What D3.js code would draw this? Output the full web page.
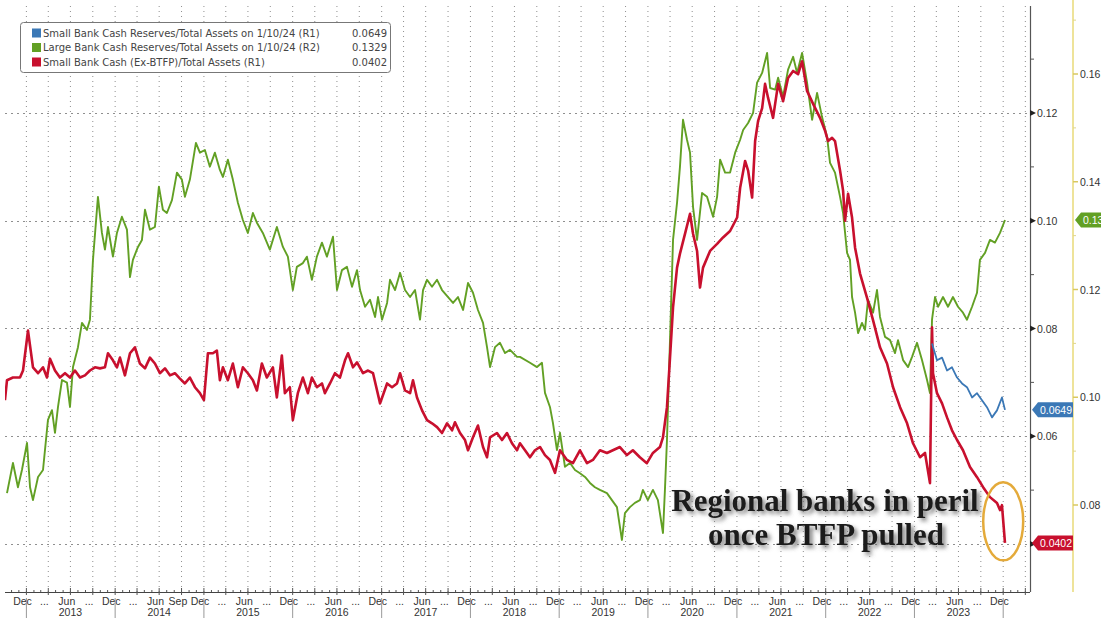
<!DOCTYPE html>
<html><head><meta charset="utf-8">
<script src="https://cdn.jsdelivr.net/npm/d3@7"></script>
<style>
html,body{margin:0;padding:0;background:#fff;overflow:hidden}
svg{display:block}
text{font-family:"Liberation Sans",Arial,sans-serif}
</style></head><body>
<svg id="chart" width="1101" height="618"></svg>
<script>
// ---------- DATA ----------
const legendLabels = [
  "Small Bank Cash Reserves/Total Assets on 1/10/24 (R1)",
  "Large Bank Cash Reserves/Total Assets on 1/10/24 (R2)",
  "Small Bank Cash (Ex-BTFP)/Total Assets (R1)"
];
const legendValues = ["0.0649", "0.1329", "0.0402"];
const seriesColors = ["#3b78b6", "#62a024", "#c8102e"];

const r1Ticks = [0.04, 0.06, 0.08, 0.10, 0.12];
const r1Minor = [0.05, 0.07, 0.09, 0.11, 0.13];
const r2Ticks = [0.08, 0.10, 0.12, 0.14, 0.16];
const r2Minor = [0.09, 0.11, 0.13, 0.15, 0.17];

// quarter-month labels from Dec 2012 to Dec 2023 (every 3 months)
const quarterLabels = ["Dec",
  "...","Jun","...","Dec",
  "...","Jun","Sep","Dec",
  "...","Jun","...","Dec",
  "...","Jun","...","Dec",
  "...","Jun","...","Dec",
  "...","Jun","...","Dec",
  "...","Jun","...","Dec",
  "...","Jun","...","Dec",
  "...","Jun","...","Dec",
  "...","Jun","...","Dec",
  "...","Jun","...","Dec"];
const yearLabels = ["2013","2014","2015","2016","2017","2018","2019","2020","2021","2022","2023"];

// [decimal year, value]
const smallBankReserves = [
[2023.198,0.0772],[2023.254,0.0741],[2023.311,0.0746],[2023.367,0.0722],[2023.423,0.0728],[2023.480,0.0709],
[2023.536,0.0698],[2023.592,0.0691],[2023.649,0.0672],[2023.705,0.0680],[2023.761,0.0667],[2023.817,0.0654],
[2023.874,0.0635],[2023.930,0.0648],[2023.986,0.0672],[2024.020,0.0649]];

const largeBankReserves = [
[2012.782,0.0822],[2012.849,0.0878],[2012.905,0.0833],[2012.950,0.0865],[2013.007,0.0915],[2013.041,0.0833],
[2013.074,0.0809],[2013.131,0.0852],[2013.187,0.0865],[2013.243,0.0958],[2013.288,0.0976],[2013.322,0.0934],
[2013.356,0.0982],[2013.401,0.1032],[2013.457,0.1027],[2013.491,0.0982],[2013.525,0.1056],[2013.581,0.1093],
[2013.626,0.1138],[2013.682,0.1125],[2013.716,0.1144],[2013.750,0.1255],[2013.806,0.1372],[2013.851,0.1305],
[2013.885,0.1274],[2013.919,0.1316],[2013.975,0.1261],[2014.020,0.1305],[2014.076,0.1335],[2014.133,0.1311],
[2014.167,0.1223],[2014.200,0.1255],[2014.257,0.1279],[2014.302,0.1292],[2014.336,0.1348],[2014.392,0.1311],
[2014.448,0.1316],[2014.493,0.1391],[2014.538,0.1348],[2014.583,0.1342],[2014.640,0.1366],[2014.696,0.1417],
[2014.752,0.1404],[2014.786,0.1372],[2014.842,0.1404],[2014.910,0.1472],[2014.955,0.1454],[2015.011,0.1459],
[2015.067,0.1428],[2015.124,0.1454],[2015.180,0.1422],[2015.214,0.1409],[2015.270,0.1441],[2015.326,0.1404],
[2015.383,0.1361],[2015.439,0.1329],[2015.495,0.1305],[2015.552,0.1342],[2015.597,0.1324],[2015.664,0.1305],
[2015.743,0.1274],[2015.822,0.1316],[2015.890,0.1279],[2015.946,0.1261],[2016.002,0.1199],[2016.047,0.1242],
[2016.115,0.1249],[2016.160,0.1261],[2016.216,0.1218],[2016.272,0.1261],[2016.329,0.1287],[2016.385,0.1261],
[2016.453,0.1298],[2016.498,0.1199],[2016.554,0.1236],[2016.610,0.1242],[2016.667,0.1205],[2016.723,0.1236],
[2016.757,0.1199],[2016.813,0.1168],[2016.869,0.1181],[2016.926,0.1149],[2016.959,0.1186],[2017.004,0.1144],
[2017.061,0.1175],[2017.094,0.1218],[2017.151,0.1199],[2017.207,0.1231],[2017.263,0.1199],[2017.320,0.1186],
[2017.376,0.1199],[2017.432,0.1144],[2017.466,0.1199],[2017.511,0.1218],[2017.567,0.1205],[2017.624,0.1218],
[2017.680,0.1199],[2017.748,0.1186],[2017.804,0.1175],[2017.860,0.1186],[2017.917,0.1162],[2017.973,0.1212],
[2018.029,0.1194],[2018.085,0.1162],[2018.142,0.1138],[2018.187,0.1093],[2018.221,0.1056],[2018.277,0.1093],
[2018.333,0.1101],[2018.390,0.1082],[2018.446,0.1088],[2018.525,0.1075],[2018.558,0.1075],[2018.671,0.1064],
[2018.750,0.1056],[2018.806,0.1064],[2018.840,0.1008],[2018.896,0.0982],[2018.930,0.0952],[2018.975,0.0902],
[2019.009,0.0934],[2019.065,0.0871],[2019.122,0.0878],[2019.178,0.0865],[2019.234,0.0859],[2019.291,0.0852],
[2019.347,0.0841],[2019.403,0.0833],[2019.459,0.0828],[2019.538,0.0822],[2019.594,0.0809],[2019.651,0.0796],
[2019.707,0.0735],[2019.741,0.0785],[2019.797,0.0796],[2019.853,0.0804],[2019.909,0.0809],[2019.943,0.0828],
[2019.999,0.0809],[2020.056,0.0828],[2020.112,0.0809],[2020.169,0.0748],[2020.191,0.0828],[2020.214,0.0921],
[2020.248,0.1106],[2020.282,0.1292],[2020.327,0.1361],[2020.360,0.1428],[2020.394,0.1515],[2020.439,0.1478],
[2020.473,0.1454],[2020.507,0.1353],[2020.552,0.1292],[2020.608,0.1379],[2020.664,0.1372],[2020.732,0.1335],
[2020.777,0.1372],[2020.811,0.1441],[2020.867,0.1417],[2020.923,0.1417],[2020.980,0.1454],[2021.036,0.1478],
[2021.070,0.1496],[2021.126,0.1509],[2021.182,0.1528],[2021.227,0.1584],[2021.284,0.1602],[2021.340,0.1639],
[2021.374,0.1574],[2021.430,0.1571],[2021.464,0.1593],[2021.520,0.1558],[2021.576,0.1608],[2021.633,0.1632],
[2021.678,0.1602],[2021.734,0.1639],[2021.790,0.1584],[2021.847,0.1515],[2021.903,0.1565],[2021.959,0.1520],
[2022.016,0.1483],[2022.049,0.1435],[2022.105,0.1417],[2022.162,0.1372],[2022.196,0.1342],[2022.241,0.1268],
[2022.274,0.1255],[2022.297,0.1186],[2022.331,0.1157],[2022.365,0.1119],[2022.409,0.1138],[2022.443,0.1125],
[2022.477,0.1181],[2022.534,0.1157],[2022.578,0.1199],[2022.612,0.1149],[2022.669,0.1112],[2022.725,0.1106],
[2022.781,0.1082],[2022.815,0.1106],[2022.872,0.1069],[2022.928,0.1056],[2022.973,0.1075],[2023.029,0.1101],
[2023.085,0.1069],[2023.142,0.1032],[2023.175,0.1008],[2023.198,0.1144],[2023.232,0.1186],[2023.266,0.1168],
[2023.322,0.1186],[2023.378,0.1168],[2023.434,0.1186],[2023.491,0.1168],[2023.547,0.1157],[2023.592,0.1144],
[2023.649,0.1168],[2023.705,0.1194],[2023.738,0.1255],[2023.795,0.1268],[2023.851,0.1292],[2023.907,0.1287],
[2023.964,0.1305],[2024.020,0.1329]];

const smallBankExBtfp = [
[2012.759,0.0667],[2012.782,0.0704],[2012.849,0.0709],[2012.928,0.0709],[2012.962,0.0722],[2013.018,0.0796],
[2013.074,0.0728],[2013.131,0.0717],[2013.187,0.0728],[2013.232,0.0709],[2013.266,0.0744],[2013.322,0.0722],
[2013.378,0.0709],[2013.435,0.0717],[2013.491,0.0709],[2013.547,0.0722],[2013.604,0.0709],[2013.660,0.0713],
[2013.716,0.0722],[2013.773,0.0728],[2013.829,0.0726],[2013.885,0.0728],[2013.919,0.0754],[2013.975,0.0741],
[2014.020,0.0728],[2014.054,0.0746],[2014.110,0.0713],[2014.167,0.0754],[2014.223,0.0765],[2014.279,0.0735],
[2014.336,0.0726],[2014.392,0.0746],[2014.448,0.0735],[2014.504,0.0717],[2014.561,0.0726],[2014.617,0.0713],
[2014.673,0.0717],[2014.730,0.0707],[2014.786,0.0698],[2014.842,0.0709],[2014.899,0.0691],[2014.955,0.0680],
[2015.000,0.0667],[2015.045,0.0754],[2015.101,0.0754],[2015.146,0.0759],[2015.180,0.0704],[2015.214,0.0728],
[2015.270,0.0704],[2015.326,0.0735],[2015.383,0.0691],[2015.439,0.0728],[2015.495,0.0717],[2015.552,0.0704],
[2015.597,0.0685],[2015.653,0.0735],[2015.709,0.0709],[2015.777,0.0728],[2015.822,0.0672],[2015.878,0.0750],
[2015.912,0.0680],[2015.968,0.0691],[2016.002,0.0630],[2016.058,0.0680],[2016.115,0.0709],[2016.171,0.0680],
[2016.216,0.0709],[2016.272,0.0691],[2016.329,0.0698],[2016.362,0.0680],[2016.419,0.0698],[2016.475,0.0717],
[2016.531,0.0709],[2016.588,0.0741],[2016.622,0.0754],[2016.678,0.0728],[2016.723,0.0737],[2016.790,0.0717],
[2016.847,0.0722],[2016.903,0.0717],[2016.982,0.0661],[2017.061,0.0698],[2017.117,0.0691],[2017.173,0.0698],
[2017.207,0.0717],[2017.263,0.0685],[2017.320,0.0680],[2017.353,0.0704],[2017.398,0.0672],[2017.455,0.0648],
[2017.511,0.0630],[2017.567,0.0624],[2017.624,0.0617],[2017.680,0.0606],[2017.736,0.0624],[2017.793,0.0611],
[2017.826,0.0626],[2017.883,0.0606],[2017.939,0.0593],[2017.973,0.0574],[2018.029,0.0598],[2018.085,0.0620],
[2018.142,0.0580],[2018.187,0.0561],[2018.221,0.0598],[2018.299,0.0606],[2018.356,0.0593],[2018.412,0.0606],
[2018.468,0.0587],[2018.525,0.0574],[2018.558,0.0587],[2018.615,0.0574],[2018.671,0.0561],[2018.727,0.0574],
[2018.784,0.0580],[2018.840,0.0565],[2018.896,0.0556],[2018.953,0.0532],[2019.009,0.0574],[2019.088,0.0556],
[2019.155,0.0550],[2019.234,0.0574],[2019.313,0.0550],[2019.380,0.0556],[2019.459,0.0574],[2019.538,0.0569],
[2019.605,0.0574],[2019.684,0.0580],[2019.763,0.0565],[2019.830,0.0574],[2019.909,0.0561],[2019.988,0.0550],
[2020.056,0.0569],[2020.135,0.0580],[2020.169,0.0598],[2020.214,0.0654],[2020.248,0.0746],[2020.282,0.0839],
[2020.327,0.0913],[2020.360,0.0939],[2020.417,0.0976],[2020.473,0.1013],[2020.507,0.0976],[2020.552,0.0944],
[2020.585,0.0876],[2020.619,0.0913],[2020.698,0.0944],[2020.777,0.0957],[2020.844,0.0969],[2020.923,0.0981],
[2021.002,0.1006],[2021.036,0.1061],[2021.092,0.1111],[2021.126,0.1093],[2021.171,0.1043],[2021.205,0.1148],
[2021.238,0.1185],[2021.284,0.1209],[2021.317,0.1254],[2021.351,0.1228],[2021.407,0.1191],[2021.464,0.1254],
[2021.520,0.1222],[2021.576,0.1265],[2021.633,0.1278],[2021.689,0.1272],[2021.734,0.1296],[2021.790,0.1241],
[2021.858,0.1217],[2021.936,0.1191],[2021.993,0.1167],[2022.027,0.1148],[2022.072,0.1154],[2022.105,0.1148],
[2022.162,0.1093],[2022.196,0.1056],[2022.218,0.1000],[2022.252,0.1050],[2022.297,0.1006],[2022.331,0.0950],
[2022.387,0.0902],[2022.466,0.0857],[2022.534,0.0815],[2022.612,0.0765],[2022.691,0.0735],[2022.759,0.0691],
[2022.838,0.0654],[2022.917,0.0624],[2022.984,0.0587],[2023.063,0.0561],[2023.119,0.0569],[2023.175,0.0513],
[2023.198,0.0802],[2023.209,0.0717],[2023.254,0.0680],[2023.311,0.0661],[2023.367,0.0635],[2023.423,0.0611],
[2023.480,0.0593],[2023.547,0.0574],[2023.626,0.0543],[2023.705,0.0524],[2023.772,0.0506],[2023.851,0.0487],
[2023.930,0.0476],[2023.964,0.0463],[2023.986,0.0472],[2024.020,0.0402]];

const annotationLines = ["Regional banks in peril", "once BTFP pulled"];
const highlightDate = 2024.0, highlightValue = 0.0442;

// ---------- CHART ----------
const svg = d3.select("#chart");
const plot = {left: 5, right: 1030, top: 6, bottom: 592};

function yearToDate(t) {
  const y = Math.floor(t);
  const a = new Date(y, 0, 1), b = new Date(y + 1, 0, 1);
  return new Date(+a + (t - y) * (b - a));
}

const x = d3.scaleTime().domain([new Date(2013, 0, 1), new Date(2024, 0, 1)]).range([26.4, 1003.2]);
const yR1 = d3.scaleLinear().domain([0.04, 0.12]).range([544, 113]);
const yR2 = d3.scaleLinear().domain([0.08, 0.16]).range([505, 74]);

const defs = svg.append("defs");
defs.append("clipPath").attr("id", "clip").append("rect")
  .attr("x", plot.left).attr("y", plot.top)
  .attr("width", plot.right - plot.left).attr("height", plot.bottom - plot.top);
const f = defs.append("filter").attr("id", "shadow").attr("x", "-10%").attr("y", "-30%").attr("width", "130%").attr("height", "170%");
f.append("feDropShadow").attr("dx", 3).attr("dy", 3).attr("stdDeviation", 2)
  .attr("flood-color", "#555").attr("flood-opacity", 0.75);

// vertical grid (quarterly)
const quarters = d3.timeMonth.every(3).range(new Date(2012, 9, 1), new Date(2024, 4, 1))
  .filter(d => x(d) > plot.left + 1 && x(d) < plot.right - 1);
svg.append("g").selectAll("line").data(quarters).join("line")
  .attr("x1", d => x(d)).attr("x2", d => x(d))
  .attr("y1", plot.top).attr("y2", plot.bottom)
  .attr("stroke", "#8f8f8f").attr("stroke-width", 1).attr("stroke-dasharray", "1,4");

// horizontal grid
svg.append("g").selectAll("line").data(r1Ticks).join("line")
  .attr("x1", plot.left).attr("x2", plot.right)
  .attr("y1", d => Math.round(yR1(d)) + 0.5).attr("y2", d => Math.round(yR1(d)) + 0.5)
  .attr("stroke", "#8f8f8f").attr("stroke-width", 1).attr("stroke-dasharray", "2,4");

// x axis
const xa = svg.append("g");
xa.append("line").attr("x1", plot.left).attr("x2", plot.right)
  .attr("y1", plot.bottom + 0.5).attr("y2", plot.bottom + 0.5).attr("stroke", "#444");
const months = d3.timeMonth.range(new Date(2012, 10, 1), new Date(2024, 4, 1))
  .filter(d => x(d) > plot.left && x(d) < plot.right);
xa.selectAll(".mt").data(months).join("line")
  .attr("x1", d => x(d)).attr("x2", d => x(d))
  .attr("y1", d => d.getMonth() % 3 === 0 ? plot.bottom - 4 : plot.bottom - 2)
  .attr("y2", d => d.getMonth() % 3 === 0 ? plot.bottom + 3 : plot.bottom)
  .attr("stroke", "#555");
const labelDates = quarterLabels.map((s, i) => new Date(2012, 11 + 3 * i, 16));
xa.selectAll(".ql").data(quarterLabels).join("text")
  .attr("x", (d, i) => x(labelDates[i])).attr("y", 605)
  .attr("text-anchor", "middle").attr("font-size", 10.5).attr("fill", "#333")
  .text(d => d);
xa.selectAll(".yl").data(yearLabels).join("text")
  .attr("x", d => x(new Date(+d, 6, 1))).attr("y", 616)
  .attr("text-anchor", "middle").attr("font-size", 10.5).attr("fill", "#333")
  .text(d => d);
const yearStarts = d3.range(2013, 2025).map(y => new Date(y, 0, 1));
xa.selectAll(".ys").data(yearStarts).join("line")
  .attr("x1", d => x(d)).attr("x2", d => x(d))
  .attr("y1", 598).attr("y2", 618).attr("stroke", "#999");

// R1 axis
const r1 = svg.append("g");
r1.append("line").attr("x1", plot.right + 0.5).attr("x2", plot.right + 0.5)
  .attr("y1", plot.top).attr("y2", plot.bottom).attr("stroke", "#555").attr("stroke-width", 1.2);
r1.selectAll(".tri").data(r1Ticks).join("path")
  .attr("d", d => { const y = yR1(d); return `M${plot.right},${y - 3}L${plot.right + 6},${y}L${plot.right},${y + 3}Z`; })
  .attr("fill", "#222");
r1.selectAll(".mn").data(r1Minor).join("line")
  .attr("x1", plot.right).attr("x2", plot.right + 4)
  .attr("y1", d => yR1(d)).attr("y2", d => yR1(d)).attr("stroke", "#555");
r1.selectAll(".lb").data(r1Ticks.filter(d => d > 0.05)).join("text")
  .attr("x", plot.right + 7).attr("y", d => yR1(d) + 4)
  .attr("font-size", 10.5).attr("fill", "#333").text(d => d3.format(".2f")(d));

// R2 axis
const r2x = 1073;
const r2 = svg.append("g");
r2.append("line").attr("x1", r2x).attr("x2", r2x).attr("y1", 0).attr("y2", plot.bottom)
  .attr("stroke", "#eee39a").attr("stroke-width", 2);
r2.selectAll(".mj").data(r2Ticks).join("line")
  .attr("x1", r2x).attr("x2", r2x + 5).attr("y1", d => yR2(d)).attr("y2", d => yR2(d))
  .attr("stroke", "#d9c860").attr("stroke-width", 1.5);
r2.selectAll(".mn").data(r2Minor).join("line")
  .attr("x1", r2x).attr("x2", r2x + 3).attr("y1", d => yR2(d)).attr("y2", d => yR2(d))
  .attr("stroke", "#e0d68a");
r2.selectAll(".lb").data(r2Ticks).join("text")
  .attr("x", r2x + 7).attr("y", d => yR2(d) + 4)
  .attr("font-size", 10.5).attr("fill", "#333").text(d => d3.format(".2f")(d));

// series
const lineR1 = d3.line().x(d => x(yearToDate(d[0]))).y(d => yR1(d[1]));
const lineR2 = d3.line().x(d => x(yearToDate(d[0]))).y(d => yR2(d[1]));
const lines = svg.append("g").attr("clip-path", "url(#clip)");
lines.append("path").datum(largeBankReserves).attr("d", lineR2)
  .attr("fill", "none").attr("stroke", seriesColors[1]).attr("stroke-width", 1.9).attr("stroke-linejoin", "round");
lines.append("path").datum(smallBankExBtfp).attr("d", lineR1)
  .attr("fill", "none").attr("stroke", seriesColors[2]).attr("stroke-width", 2.6).attr("stroke-linejoin", "round");
lines.append("path").datum(smallBankReserves).attr("d", lineR1)
  .attr("fill", "none").attr("stroke", seriesColors[0]).attr("stroke-width", 1.8).attr("stroke-linejoin", "round");

// value tags
function tag(x0, y, color, txt) {
  const g = svg.append("g");
  g.append("path").attr("d", `M${x0},${y}L${x0 + 6},${y - 7.5}L${x0 + 41},${y - 7.5}L${x0 + 41},${y + 7.5}L${x0 + 6},${y + 7.5}Z`)
    .attr("fill", color);
  g.append("text").attr("x", x0 + 24).attr("y", y + 4).attr("text-anchor", "middle")
    .attr("font-size", 10.5).attr("fill", "#fff").text(txt);
}
tag(plot.right + 2, yR1(+legendValues[0]), seriesColors[0], legendValues[0]);
tag(plot.right + 2, yR1(+legendValues[2]), seriesColors[2], legendValues[2]);
tag(r2x + 2, yR2(+legendValues[1]), seriesColors[1], legendValues[1]);

// legend
const lg = svg.append("g");
lg.append("rect").attr("x", 20.5).attr("y", 22.5).attr("width", 370).attr("height", 50).attr("rx", 3)
  .attr("fill", "#fff").attr("stroke", "#777");
legendLabels.forEach((s, i) => {
  const cy = 33 + i * 14.5;
  lg.append("rect").attr("x", 32).attr("y", cy - 4.5).attr("width", 9).attr("height", 9).attr("fill", seriesColors[i]);
  lg.append("text").attr("x", 43).attr("y", cy + 3.5).attr("font-size", 10)
    .style("font-family", "'DejaVu Sans',sans-serif").attr("fill", "#444").text(s);
  lg.append("text").attr("x", 387).attr("y", cy + 3.5).attr("text-anchor", "end").attr("font-size", 10)
    .style("font-family", "'DejaVu Sans',sans-serif").attr("fill", "#444").text(legendValues[i]);
});

// annotation
const an = svg.append("g").attr("filter", "url(#shadow)");
an.append("text").attr("x", 825).attr("y", 511).attr("text-anchor", "middle")
  .style("font-family", "'Liberation Serif','Times New Roman',serif").attr("font-weight", "bold")
  .attr("font-size", 31).attr("fill", "#1a1a1a").text(annotationLines[0]);
an.append("text").attr("x", 826).attr("y", 545).attr("text-anchor", "middle")
  .style("font-family", "'Liberation Serif','Times New Roman',serif").attr("font-weight", "bold")
  .attr("font-size", 31).attr("fill", "#1a1a1a").text(annotationLines[1]);

svg.append("ellipse")
  .attr("cx", x(yearToDate(highlightDate))).attr("cy", yR1(highlightValue))
  .attr("rx", 20).attr("ry", 39)
  .attr("fill", "none").attr("stroke", "#e4aa3a").attr("stroke-width", 2.5);
</script>
</body></html>
